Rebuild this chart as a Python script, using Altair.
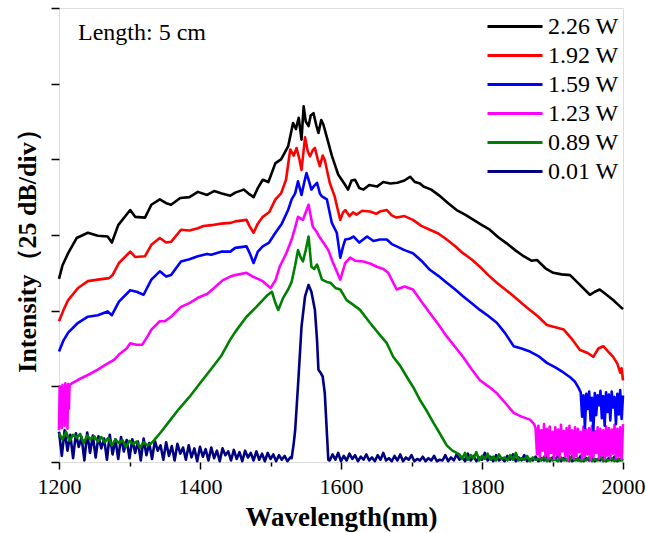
import altair as alt
import pandas as pd

series_names = ["2.26 W", "1.92 W", "1.59 W", "1.23 W", "0.89 W", "0.01 W"]
series_colors = ["#000000", "#ff0000", "#0000ff", "#ff00ff", "#008000", "#000080"]

x_ticks = [1200, 1300, 1400, 1500, 1600, 1700, 1800, 1900, 2000]
y_ticks = [0, 1, 2, 3, 4, 5, 6]

# ---- 2.26 W (black)
black_wl = [1200, 1205, 1213, 1225, 1241, 1255, 1269, 1275, 1284, 1301, 1308, 1322, 1331, 1343, 1352, 1359,
            1372, 1385, 1397, 1410, 1420, 1431, 1443, 1450, 1462, 1470, 1476, 1482, 1489, 1497, 1507, 1515,
            1525, 1532, 1536, 1540, 1544, 1547, 1550, 1554, 1557, 1561, 1565, 1568, 1572, 1575, 1582, 1587,
            1592, 1596, 1601, 1606, 1610, 1615, 1620, 1626, 1632, 1640, 1651, 1660, 1670, 1680, 1690, 1698,
            1705, 1712, 1717, 1728, 1741, 1752, 1764, 1776, 1788, 1800, 1811, 1823, 1835, 1847, 1859, 1870,
            1878, 1890, 1901, 1913, 1925, 1940, 1953, 1960, 1967, 1978, 1986, 1993, 2000]
black_v = [2.42, 2.60, 2.76, 2.96, 3.03, 2.99, 2.98, 2.90, 3.13, 3.33, 3.24, 3.23, 3.40, 3.47, 3.42, 3.40,
           3.49, 3.50, 3.57, 3.53, 3.58, 3.55, 3.52, 3.56, 3.60, 3.54, 3.50, 3.62, 3.73, 3.70, 3.95, 4.00,
           4.17, 4.48, 4.40, 4.55, 4.26, 4.70, 4.50, 4.44, 4.58, 4.61, 4.45, 4.35, 4.52, 4.46, 4.22, 4.05,
           3.91, 3.80, 3.73, 3.66, 3.60, 3.72, 3.73, 3.62, 3.60, 3.66, 3.64, 3.70, 3.68, 3.69, 3.72, 3.77,
           3.70, 3.68, 3.64, 3.60, 3.51, 3.42, 3.33, 3.27, 3.20, 3.13, 3.07, 2.97, 2.89, 2.80, 2.72, 2.66,
           2.67, 2.56, 2.50, 2.48, 2.47, 2.33, 2.21, 2.25, 2.28, 2.20, 2.14, 2.08, 2.02]

# ---- 1.92 W (red)
red_wl = [1200, 1206, 1213, 1227, 1241, 1255, 1271, 1276, 1285, 1301, 1308, 1322, 1331, 1343, 1352, 1359,
          1373, 1385, 1397, 1405, 1416, 1430, 1443, 1450, 1466, 1470, 1476, 1482, 1489, 1498, 1507, 1515,
          1522, 1528, 1533, 1537, 1541, 1544, 1549, 1553, 1556, 1560, 1563, 1567, 1570, 1574, 1577, 1584,
          1591, 1595, 1599, 1603, 1606, 1612, 1617, 1622, 1630, 1641, 1650, 1655, 1665, 1672, 1679, 1690,
          1702, 1714, 1726, 1738, 1750, 1762, 1773, 1785, 1797, 1809, 1821, 1833, 1845, 1856, 1868, 1880,
          1892, 1904, 1916, 1928, 1939, 1950, 1958, 1965, 1972, 1980, 1986, 1992, 1996, 1998, 2000]
red_v = [1.86, 2.00, 2.14, 2.30, 2.39, 2.41, 2.43, 2.47, 2.63, 2.78, 2.71, 2.72, 2.87, 2.96, 2.90, 2.91,
         3.07, 3.06, 3.09, 3.12, 3.13, 3.15, 3.16, 3.18, 3.20, 3.12, 3.03, 3.15, 3.24, 3.30, 3.47, 3.55,
         3.73, 4.13, 4.05, 4.15, 4.00, 3.86, 4.29, 4.10, 4.04, 4.12, 4.15, 4.00, 3.91, 4.05, 3.99, 3.69,
         3.51, 3.35, 3.20, 3.30, 3.33, 3.25, 3.30, 3.27, 3.32, 3.31, 3.28, 3.31, 3.33, 3.26, 3.23, 3.25,
         3.20, 3.12, 3.07, 3.02, 2.94, 2.85, 2.76, 2.68, 2.58, 2.47, 2.37, 2.28, 2.19, 2.10, 2.01, 1.92,
         1.81, 1.78, 1.75, 1.62, 1.48, 1.44, 1.39, 1.50, 1.53, 1.45, 1.39, 1.30, 1.18, 1.24, 1.08]

# ---- 1.59 W (blue)
blue_wl = [1200, 1206, 1213, 1227, 1241, 1255, 1269, 1275, 1285, 1301, 1310, 1320, 1331, 1343, 1352, 1359,
           1373, 1385, 1397, 1410, 1416, 1430, 1443, 1450, 1466, 1471, 1476, 1482, 1489, 1498, 1507, 1516,
           1525, 1530, 1535, 1539, 1544, 1548, 1551, 1555, 1558, 1562, 1566, 1570, 1573, 1580, 1587, 1594,
           1599, 1603, 1606, 1612, 1618, 1626, 1637, 1646, 1655, 1665, 1672, 1679, 1690, 1702, 1714, 1726,
           1738, 1750, 1762, 1773, 1785, 1797, 1809, 1821, 1833, 1845, 1856, 1868, 1880, 1892, 1904, 1916,
           1925, 1932, 1937]
blue_v = [1.46, 1.60, 1.71, 1.84, 1.92, 1.94, 1.99, 1.94, 2.12, 2.27, 2.25, 2.21, 2.41, 2.52, 2.45, 2.47,
          2.65, 2.68, 2.72, 2.75, 2.74, 2.78, 2.78, 2.83, 2.85, 2.75, 2.63, 2.78, 2.85, 2.90, 3.03, 3.15,
          3.33, 3.47, 3.55, 3.71, 3.53, 3.70, 3.82, 3.70, 3.60, 3.65, 3.69, 3.55, 3.51, 3.47, 3.16, 3.03,
          2.70, 2.85, 2.94, 2.95, 2.98, 2.90, 2.98, 2.92, 2.94, 2.94, 2.88, 2.85, 2.80, 2.76, 2.66, 2.54,
          2.46, 2.37, 2.28, 2.19, 2.10, 2.01, 1.93, 1.84, 1.70, 1.53, 1.50, 1.46, 1.40, 1.31, 1.25, 1.18,
          1.12, 1.06, 0.98]
blue_noise_start, blue_noise_step = 1940, 2
blue_noise_v = [0.92, 0.60, 0.88, 0.45, 0.90, 0.70, 0.93, 0.55, 0.85, 0.42, 0.91, 0.62, 0.88, 0.75, 0.94, 0.58,
                0.87, 0.48, 0.92, 0.66, 0.89, 0.55, 0.93, 0.72, 0.86, 0.50, 0.90, 0.63, 0.95, 0.57, 0.88]

# ---- 1.23 W (magenta)
mag_wl = [1200, 1201, 1202, 1203, 1204, 1205, 1206, 1207, 1208, 1209, 1210, 1211, 1212, 1213, 1214, 1215,
          1220, 1230, 1241, 1255, 1265, 1278, 1285, 1296, 1301, 1310, 1318, 1325, 1331, 1343, 1350, 1359,
          1373, 1385, 1397, 1410, 1420, 1432, 1443, 1450, 1466, 1475, 1489, 1500, 1507, 1513, 1522, 1530,
          1535, 1539, 1546, 1550, 1554, 1557, 1560, 1565, 1569, 1575, 1582, 1588, 1593, 1599, 1606, 1613,
          1620, 1632, 1642, 1651, 1660, 1667, 1679, 1690, 1702, 1714, 1726, 1738, 1750, 1762, 1773, 1785,
          1797, 1809, 1821, 1833, 1845, 1856, 1868, 1874]
mag_v = [0.42, 1.00, 0.50, 0.98, 0.45, 1.02, 0.55, 0.96, 0.48, 1.04, 0.60, 0.99, 0.44, 1.03, 0.70, 1.02,
         1.05, 1.10, 1.15, 1.22, 1.28, 1.35, 1.42, 1.50, 1.57, 1.55, 1.55, 1.65, 1.75, 1.86, 1.86, 1.92,
         2.05, 2.10, 2.17, 2.22, 2.30, 2.40, 2.45, 2.47, 2.50, 2.45, 2.39, 2.30, 2.40, 2.58, 2.75, 2.94,
         3.10, 3.24, 3.20, 3.30, 3.40, 3.25, 3.11, 3.05, 2.98, 2.90, 2.80, 2.65, 2.54, 2.41, 2.63, 2.70,
         2.66, 2.65, 2.62, 2.58, 2.55, 2.50, 2.28, 2.32, 2.28, 2.12, 1.97, 1.82, 1.66, 1.52, 1.39, 1.23,
         1.08, 1.00, 0.91, 0.78, 0.65, 0.60, 0.56, 0.50]
mag_noise_start, mag_noise_step = 1876, 2
mag_noise_v = [0.45, 0.10, 0.48, 0.06, 0.42, 0.15, 0.50, 0.08, 0.44, 0.05, 0.47, 0.12, 0.40, 0.04, 0.46, 0.09,
               0.43, 0.06, 0.49, 0.14, 0.41, 0.07, 0.45, 0.03, 0.48, 0.11, 0.42, 0.05, 0.46, 0.08, 0.44, 0.13,
               0.40, 0.04, 0.47, 0.07, 0.43, 0.10, 0.45, 0.03, 0.48, 0.06, 0.41, 0.12, 0.46, 0.05, 0.44, 0.09,
               0.42, 0.04, 0.47, 0.08, 0.45, 0.06, 0.43, 0.11, 0.49, 0.05, 0.44, 0.07, 0.46, 0.04, 0.50]

# ---- 0.89 W (green)
green_floor1_start, green_floor1_step = 1200, 5
green_floor1_v = [0.38, 0.30, 0.40, 0.28, 0.36, 0.32, 0.37, 0.25, 0.35, 0.30, 0.34, 0.27, 0.33, 0.26, 0.32,
                  0.22, 0.30, 0.25, 0.29, 0.20, 0.28, 0.24, 0.27, 0.19, 0.26, 0.22, 0.24]
green_wl = [1335, 1345, 1355, 1370, 1385, 1400, 1415, 1430, 1443, 1450, 1466, 1480, 1489, 1495, 1502, 1507,
            1511, 1518, 1525, 1530, 1535, 1539, 1543, 1546, 1550, 1554, 1558, 1562, 1566, 1573, 1580, 1585,
            1592, 1599, 1608, 1617, 1627, 1641, 1655, 1665, 1674, 1684, 1693, 1703, 1712, 1722, 1731, 1740,
            1750, 1758, 1764]
green_v = [0.29, 0.40, 0.52, 0.70, 0.86, 1.04, 1.22, 1.40, 1.62, 1.72, 1.92, 2.05, 2.14, 2.20, 2.25, 2.10,
           2.01, 2.17, 2.28, 2.38, 2.60, 2.80, 2.70, 2.65, 2.80, 2.98, 2.58, 2.55, 2.61, 2.41, 2.38, 2.37,
           2.30, 2.28, 2.14, 2.08, 2.01, 1.84, 1.68, 1.57, 1.39, 1.27, 1.13, 0.98, 0.82, 0.67, 0.52, 0.38,
           0.22, 0.15, 0.12]
green_floor2_start, green_floor2_step = 1768, 4
green_floor2_v = [0.10, 0.04, 0.12, 0.03, 0.09, 0.05, 0.13, 0.02, 0.08, 0.04, 0.11, 0.03, 0.07, 0.02, 0.10,
                  0.04, 0.06, 0.02, 0.09, 0.03, 0.12, 0.02, 0.05, 0.03, 0.08, 0.01, 0.06, 0.03, 0.04, 0.02,
                  0.07, 0.01, 0.05, 0.02, 0.03, 0.01, 0.06, 0.02, 0.04, 0.01, 0.08, 0.02, 0.05, 0.01, 0.03,
                  0.02, 0.06, 0.01, 0.04, 0.02, 0.07, 0.01, 0.03, 0.02, 0.05, 0.01, 0.04, 0.02, 0.03]

# ---- 0.01 W (navy)
navy_floor1_start, navy_floor1_step = 1200, 4
navy_floor1_v = [0.40, 0.08, 0.42, 0.15, 0.36, 0.05, 0.38, 0.20, 0.33, 0.02, 0.39, 0.12, 0.35, 0.06, 0.34,
                 0.18, 0.31, 0.03, 0.36, 0.10, 0.30, 0.04, 0.33, 0.14, 0.29,
                 0.05, 0.30, 0.12, 0.27, 0.02, 0.31, 0.09, 0.25, 0.04, 0.28, 0.15, 0.22, 0.03, 0.26, 0.08,
                 0.21, 0.02, 0.24, 0.11, 0.19, 0.03, 0.22, 0.06, 0.18, 0.01,
                 0.20, 0.07, 0.17, 0.02, 0.19, 0.05, 0.15, 0.01, 0.18, 0.09, 0.14, 0.02, 0.16, 0.04, 0.13,
                 0.01, 0.15, 0.06, 0.12, 0.02, 0.14, 0.03, 0.11, 0.01, 0.12,
                 0.04, 0.10, 0.01, 0.09, 0.03, 0.08, 0.01, 0.06]
navy_wl = [1530, 1533, 1535, 1539.5, 1544, 1549, 1554, 1558, 1563, 1566, 1568, 1571, 1574, 1577, 1580, 1582]
navy_v = [0.05, 0.25, 0.42, 1.08, 1.79, 2.19, 2.34, 2.25, 2.01, 1.61, 1.22, 1.18, 1.13, 0.91, 0.38, 0.03]
navy_floor2_start, navy_floor2_step = 1584, 4
navy_floor2_v = [0.02, 0.10, 0.03, 0.12, 0.01, 0.08, 0.02, 0.11, 0.04, 0.09, 0.01, 0.07, 0.03, 0.10, 0.02,
                 0.06, 0.01, 0.09, 0.03, 0.12, 0.02, 0.05, 0.01, 0.08, 0.02, 0.10, 0.01, 0.06, 0.03, 0.09,
                 0.01, 0.04, 0.02, 0.07, 0.01, 0.05, 0.02, 0.08, 0.01, 0.03, 0.02, 0.09, 0.01, 0.06, 0.02,
                 0.10, 0.03, 0.07, 0.01, 0.11, 0.02, 0.08, 0.01, 0.06, 0.03, 0.12, 0.02, 0.07, 0.01, 0.09,
                 0.02, 0.05, 0.01, 0.08, 0.03, 0.10, 0.01, 0.06, 0.02, 0.09, 0.01, 0.04, 0.02, 0.07, 0.01,
                 0.05, 0.02, 0.08, 0.01, 0.06, 0.03, 0.09, 0.01, 0.05, 0.02, 0.07, 0.01, 0.04, 0.02, 0.08,
                 0.01, 0.05, 0.02, 0.07, 0.01, 0.04, 0.02, 0.06, 0.01, 0.05, 0.02, 0.07, 0.01, 0.04, 0.02]

annot_text = ["Length: 5 cm"]
annot_wl = [1227]
annot_v = [5.58]


def grid(start, step, vals):
    return [start + i * step for i in range(len(vals))]


rows = []


def add(name, wls, vs):
    for w, v in zip(wls, vs):
        rows.append({"wl": w, "v": v, "series": name})


# draw order: low power first
add("0.01 W", grid(navy_floor1_start, navy_floor1_step, navy_floor1_v), navy_floor1_v)
add("0.01 W", navy_wl, navy_v)
add("0.01 W", grid(navy_floor2_start, navy_floor2_step, navy_floor2_v), navy_floor2_v)
add("0.89 W", grid(green_floor1_start, green_floor1_step, green_floor1_v), green_floor1_v)
add("0.89 W", green_wl, green_v)
add("0.89 W", grid(green_floor2_start, green_floor2_step, green_floor2_v), green_floor2_v)
add("1.23 W", mag_wl, mag_v)
add("1.23 W", grid(mag_noise_start, mag_noise_step, mag_noise_v), mag_noise_v)
add("1.59 W", blue_wl, blue_v)
add("1.59 W", grid(blue_noise_start, blue_noise_step, blue_noise_v), blue_noise_v)
add("1.92 W", red_wl, red_v)
add("2.26 W", black_wl, black_v)

df = pd.DataFrame(rows)
annot = pd.DataFrame({"wl": annot_wl, "v": annot_v, "text": annot_text})

FONT = "Liberation Serif"

x_scale = alt.Scale(domain=[1200, 2000], nice=False, zero=False)
y_scale = alt.Scale(domain=[0, 6], nice=False, zero=False)

lines = alt.Chart(df).mark_line(strokeWidth=2.6, strokeJoin="round").encode(
    x=alt.X("wl:Q", scale=x_scale,
            axis=alt.Axis(values=x_ticks, title="Wavelength(nm)", format="d",
                          labelExpr="datum.value % 200 === 0 ? datum.label : ''",
                          tickSize={"expr": "datum.value % 200 === 0 ? 7 : 4"},
                          labelFont=FONT, labelFontSize=22, labelColor="black",
                          labelPadding=7, labelFlush=False,
                          tickColor="black", tickWidth=1.5, domain=False, grid=False,
                          titleFont=FONT, titleFontSize=27, titleFontWeight="bold",
                          titleColor="black", titleX=282, titleY=63,
                          titleAlign="center", titleBaseline="alphabetic")),
    y=alt.Y("v:Q", scale=y_scale,
            axis=alt.Axis(values=y_ticks, labels=False, title="Intensity（25 dB/div）",
                          tickSize=8, tickColor="black", tickWidth=1.5, domain=False, grid=False,
                          titleFont=FONT, titleFontSize=26, titleFontWeight="bold",
                          titleColor="black", titleX=-32, titleY=236, titleAngle=270,
                          titleAlign="center", titleBaseline="middle")),
    color=alt.Color("series:N",
                    scale=alt.Scale(domain=series_names, range=series_colors),
                    legend=alt.Legend(title=None, orient="none", legendX=427, legendY=4,
                                      symbolType="stroke", symbolSize=3025, symbolStrokeWidth=3,
                                      labelFont=FONT, labelFontSize=24, labelColor="black",
                                      clipHeight=29, rowPadding=0, padding=0, labelOffset=4)),
)

text = alt.Chart(annot).mark_text(font=FONT, fontSize=24, color="black", align="left",
                                  baseline="alphabetic").encode(
    x=alt.X("wl:Q", scale=x_scale), y=alt.Y("v:Q", scale=y_scale), text="text:N")

chart = alt.layer(lines, text).properties(
    width=564, height=454,
    padding={"left": 59, "top": 8, "right": 23, "bottom": 71},
    autosize=alt.AutoSizeParams(type="none"),
).configure_view(stroke="black", strokeWidth=1.5).configure(background="white")

chart.save("out.html", embed_options={"renderer": "svg", "actions": False})
